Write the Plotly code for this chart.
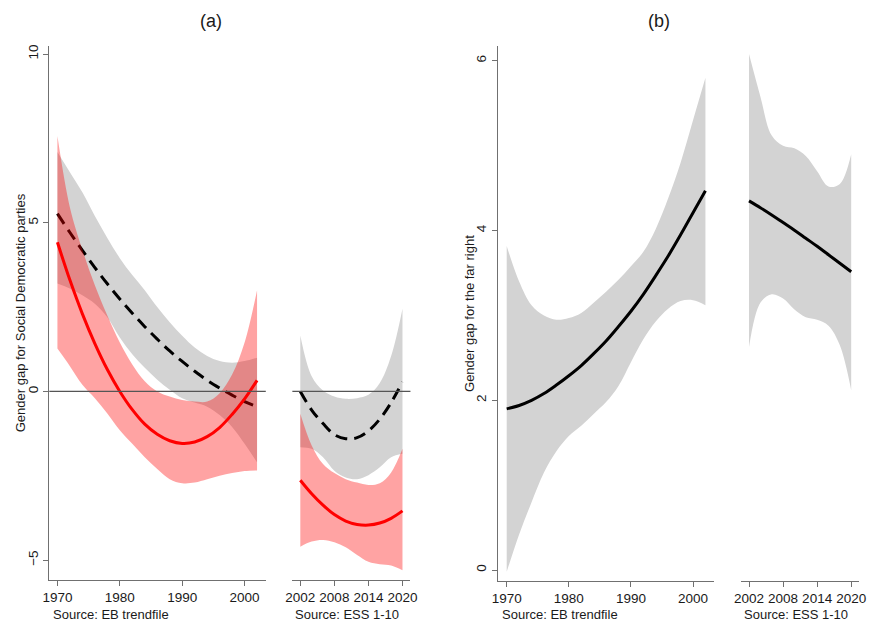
import plotly.graph_objects as go

# ---------------- data ----------------
eb_years = [1970, 1972, 1974, 1976, 1978, 1980, 1982, 1984, 1986, 1988,
            1990, 1992, 1994, 1996, 1998, 2000, 2002]
ess_years = [2002, 2004, 2006, 2008, 2010, 2012, 2014, 2016, 2018, 2020]

# Panel (a): Social Democratic parties, EB trendfile
a_eb_black = [5.27, 4.71, 4.18, 3.67, 3.19, 2.74, 2.32, 1.92, 1.55, 1.20,
              0.89, 0.60, 0.33, 0.10, -0.11, -0.30, -0.45]
a_eb_black_hi = [7.1, 6.5, 5.9, 5.2, 4.55, 3.95, 3.45, 3.0, 2.5, 2.05,
                 1.65, 1.3, 1.05, 0.9, 0.85, 0.9, 1.0]
a_eb_black_lo = [3.2, 3.05, 2.85, 2.6, 2.2, 1.6, 1.1, 0.7, 0.35, 0.05,
                 -0.2, -0.33, -0.45, -0.7, -1.05, -1.55, -2.1]
a_eb_red = [4.42, 3.3, 2.3, 1.42, 0.65, 0.0, -0.54, -0.97, -1.27, -1.46,
            -1.54, -1.5, -1.34, -1.07, -0.68, -0.22, 0.33]
a_eb_red_hi = [7.57, 5.45, 4.2, 3.15, 2.25, 1.45, 0.8, 0.3, 0.0, -0.15,
               -0.25, -0.3, -0.3, -0.05, 0.5, 1.45, 3.0]
a_eb_red_lo = [1.27, 0.75, 0.2, -0.2, -0.65, -1.15, -1.55, -1.95, -2.3, -2.6,
               -2.72, -2.7, -2.6, -2.5, -2.42, -2.36, -2.34]

# Panel (a): ESS 1-10
a_ess_black = [0.0, -0.55, -0.95, -1.28, -1.4, -1.37, -1.17, -0.82, -0.33, 0.28]
a_ess_black_hi = [1.66, 0.45, 0.03, -0.15, -0.22, -0.2, -0.1, 0.25, 1.05, 2.45]
a_ess_black_lo = [-1.65, -1.7, -1.95, -2.35, -2.55, -2.6, -2.48, -2.25, -1.95, -1.85]
a_ess_red = [-2.63, -3.03, -3.37, -3.65, -3.84, -3.94, -3.96, -3.9, -3.76, -3.54]
a_ess_red_hi = [-0.66, -1.6, -2.15, -2.42, -2.6, -2.7, -2.77, -2.72, -2.4, -1.7]
a_ess_red_lo = [-4.6, -4.45, -4.4, -4.47, -4.62, -4.85, -5.05, -5.12, -5.16, -5.3]

# Panel (b): far right, EB trendfile
b_eb = [1.9, 1.94, 2.0, 2.08, 2.18, 2.29, 2.41, 2.55, 2.70, 2.87,
        3.05, 3.25, 3.47, 3.70, 3.95, 4.21, 4.47]
b_eb_hi = [3.82, 3.4, 3.12, 3.0, 2.95, 2.97, 3.03, 3.15, 3.28, 3.42,
           3.58, 3.75, 4.02, 4.38, 4.8, 5.3, 5.8]
b_eb_lo = [-0.02, 0.42, 0.8, 1.15, 1.4, 1.58, 1.7, 1.84, 1.98, 2.17,
           2.45, 2.72, 2.93, 3.08, 3.17, 3.18, 3.12]

# Panel (b): ESS 1-10
b_ess = [4.35, 4.27, 4.185, 4.095, 4.005, 3.91, 3.815, 3.715, 3.615, 3.515]
b_ess_hi = [6.08, 5.58, 5.12, 5.0, 4.97, 4.88, 4.7, 4.52, 4.55, 4.9]
b_ess_lo = [2.63, 3.15, 3.25, 3.2, 3.07, 2.98, 2.95, 2.88, 2.65, 2.12]

eb_ticks = [1970, 1980, 1990, 2000]
ess_ticks = [2002, 2008, 2014, 2020]
a_yticks = [-5, 0, 5, 10]
b_yticks = [0, 2, 4, 6]

# ---------------- styling ----------------
W, H = 875, 623
GRAY_FILL = "rgb(211,211,211)"
RED_FILL = "rgba(255,0,0,0.36)"
AXIS_COL = "#707070"
TEXT_COL = "#1a1a1a"
FONT = "Liberation Sans, Arial, sans-serif"
DASH = "12px,7px"


def px_x(p):
    return p / W


def px_y(p):
    return 1 - p / H


fig = go.Figure()


def band(x, lo, hi, color, xa, ya):
    fig.add_trace(go.Scatter(x=x, y=lo, mode="lines", line=dict(width=0, shape="spline"),
                             hoverinfo="skip", showlegend=False, xaxis=xa, yaxis=ya))
    fig.add_trace(go.Scatter(x=x, y=hi, mode="lines", line=dict(width=0, shape="spline"),
                             fill="tonexty", fillcolor=color, hoverinfo="skip",
                             showlegend=False, xaxis=xa, yaxis=ya))


def line(x, y, color, dash, xa, ya):
    fig.add_trace(go.Scatter(x=x, y=y, mode="lines",
                             line=dict(color=color, width=3, dash=dash, shape="spline"),
                             showlegend=False, xaxis=xa, yaxis=ya))


# Panel (a) EB
band(eb_years, a_eb_black_lo, a_eb_black_hi, GRAY_FILL, "x", "y")
line(eb_years, a_eb_black, "black", DASH, "x", "y")
band(eb_years, a_eb_red_lo, a_eb_red_hi, RED_FILL, "x", "y")
line(eb_years, a_eb_red, "red", "solid", "x", "y")
# Panel (a) ESS
band(ess_years, a_ess_black_lo, a_ess_black_hi, GRAY_FILL, "x2", "y")
line(ess_years, a_ess_black, "black", DASH, "x2", "y")
band(ess_years, a_ess_red_lo, a_ess_red_hi, RED_FILL, "x2", "y")
line(ess_years, a_ess_red, "red", "solid", "x2", "y")
# Panel (b) EB
band(eb_years, b_eb_lo, b_eb_hi, GRAY_FILL, "x3", "y2")
line(eb_years, b_eb, "black", "solid", "x3", "y2")
# Panel (b) ESS
band(ess_years, b_ess_lo, b_ess_hi, GRAY_FILL, "x4", "y2")
line(ess_years, b_ess, "black", "solid", "x4", "y2")

tickfont = dict(family=FONT, size=13.5, color=TEXT_COL)
xcommon = dict(showline=True, linecolor=AXIS_COL, linewidth=1.3, ticks="outside",
               ticklen=5, tickcolor=AXIS_COL, tickwidth=1.3, showgrid=False,
               zeroline=False, tickfont=tickfont, fixedrange=True)
ycommon = dict(showline=True, linecolor=AXIS_COL, linewidth=1.3, ticks="outside",
               ticklen=5, tickcolor=AXIS_COL, tickwidth=1.3, showgrid=False,
               zeroline=False, tickfont=tickfont, tickangle=-90, fixedrange=True)

fig.update_layout(
    width=W, height=H,
    margin=dict(l=0, r=0, t=0, b=0),
    paper_bgcolor="white", plot_bgcolor="white",
    showlegend=False,
    font=dict(family=FONT, color=TEXT_COL),
    xaxis=dict(domain=[px_x(43), px_x(263)], anchor="y", range=[1968.7, 2003.4],
               tickvals=eb_ticks, **xcommon),
    xaxis2=dict(domain=[px_x(290), px_x(410)], anchor="y", range=[2000.6, 2021.4],
                tickvals=ess_ticks, **xcommon),
    yaxis=dict(domain=[px_y(580), px_y(45)], anchor="x", range=[-5.59, 10.24],
               tickvals=a_yticks, **ycommon),
    xaxis3=dict(domain=[px_x(499), px_x(718)], anchor="y2", range=[1968.6, 2003.3],
                tickvals=eb_ticks, **xcommon),
    xaxis4=dict(domain=[px_x(746), px_x(866)], anchor="y2", range=[2000.6, 2021.4],
                tickvals=ess_ticks, **xcommon),
    yaxis2=dict(domain=[px_y(581), px_y(45)], anchor="x3", range=[-0.129, 6.176],
                tickvals=b_yticks, **ycommon),
)

# zero reference lines in panel (a)
for xr in ["x domain", "x2 domain"]:
    fig.add_shape(type="line", xref=xr, yref="y", x0=0, x1=1, y0=0, y1=0,
                  line=dict(color="#555555", width=1.2), layer="above")

ann_font = dict(family=FONT, size=13, color=TEXT_COL)
annotations = [
    dict(text="(a)", x=px_x(207), y=px_y(20), font=dict(family=FONT, size=18, color=TEXT_COL),
         xanchor="center", yanchor="middle"),
    dict(text="(b)", x=px_x(663), y=px_y(20), font=dict(family=FONT, size=18, color=TEXT_COL),
         xanchor="center", yanchor="middle"),
    dict(text="Source: EB trendfile", x=px_x(45), y=px_y(614), xanchor="left",
         yanchor="middle", font=ann_font),
    dict(text="Source: ESS 1-10", x=px_x(291), y=px_y(614), xanchor="left",
         yanchor="middle", font=ann_font),
    dict(text="Source: EB trendfile", x=px_x(501), y=px_y(614), xanchor="left",
         yanchor="middle", font=ann_font),
    dict(text="Source: ESS 1-10", x=px_x(747), y=px_y(614), xanchor="left",
         yanchor="middle", font=ann_font),
    dict(text="Gender gap for Social Democratic parties", x=px_x(14), y=px_y(312),
         textangle=-90, xanchor="center", yanchor="middle", font=ann_font),
    dict(text="Gender gap for the far right", x=px_x(470), y=px_y(313),
         textangle=-90, xanchor="center", yanchor="middle", font=ann_font),
]
for a in annotations:
    a.update(xref="paper", yref="paper", showarrow=False)
fig.update_layout(annotations=annotations)

fig.write_html("out.html",
               config={"displayModeBar": False},
               post_script="document.body.style.margin='0';document.body.style.overflow='hidden';")
